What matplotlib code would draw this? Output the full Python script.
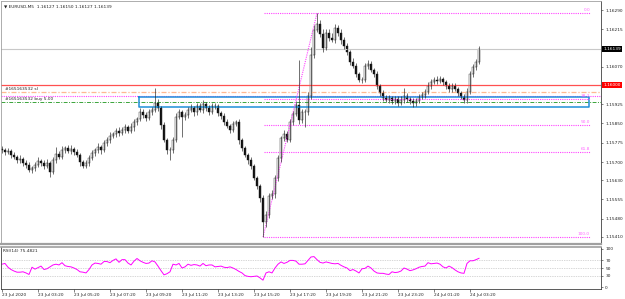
import numpy as np
import matplotlib
matplotlib.use('agg')
import matplotlib.pyplot as plt
from matplotlib.transforms import blended_transform_factory

# EURUSD close prices (one bar per 3 px of the chart)
closes = [
    1.15747, 1.15739, 1.15743, 1.15728, 1.15720, 1.15708, 1.15712, 1.15697, 1.15689, 1.15669,
    1.15677, 1.15689, 1.15704, 1.15697, 1.15685, 1.15697, 1.15662, 1.15708, 1.15731, 1.15720,
    1.15747, 1.15755, 1.15743, 1.15751, 1.15739, 1.15728, 1.15700, 1.15685, 1.15697, 1.15716,
    1.15735, 1.15747, 1.15759, 1.15747, 1.15774, 1.15786, 1.15801, 1.15809, 1.15821, 1.15813,
    1.15825, 1.15836, 1.15821, 1.15836, 1.15856, 1.15867, 1.15894, 1.15883, 1.15871, 1.15894,
    1.15902, 1.15929, 1.15910, 1.15844, 1.15786, 1.15747, 1.15747, 1.15786, 1.15875, 1.15894,
    1.15875, 1.15883, 1.15902, 1.15910, 1.15894, 1.15918, 1.15902, 1.15925, 1.15910, 1.15894,
    1.15918, 1.15918, 1.15891, 1.15879, 1.15856, 1.15840, 1.15825, 1.15848, 1.15856, 1.15786,
    1.15755, 1.15728, 1.15708, 1.15685, 1.15638, 1.15607, 1.15561, 1.15468, 1.15495, 1.15569,
    1.15576, 1.15638, 1.15716, 1.15794, 1.15809, 1.15786, 1.15856, 1.15887, 1.15922, 1.15863,
    1.15894, 1.15894, 1.15957, 1.16116, 1.16213, 1.16236, 1.16197, 1.16143, 1.16201, 1.16182,
    1.16174, 1.16220, 1.16201, 1.16174, 1.16151, 1.16127, 1.16089, 1.16073, 1.16042, 1.16019,
    1.16019, 1.16073, 1.16081, 1.16057, 1.16042, 1.15995, 1.15968, 1.15949, 1.15941, 1.15949,
    1.15937, 1.15945, 1.15929, 1.15941, 1.15957, 1.15945, 1.15937, 1.15929, 1.15937, 1.15953,
    1.15960, 1.15972, 1.15995, 1.16011, 1.16019, 1.16015, 1.16022, 1.16011, 1.15995, 1.15984,
    1.15995, 1.15984, 1.15968, 1.15953, 1.15941, 1.15972, 1.16042, 1.16069, 1.16089, 1.16139,
]
first_open = 1.15752
# wick sizes in points (0.00001)
upper_wick = [
    10, 8, 12, 6, 10, 9, 14, 7, 10, 12,
    8, 11, 15, 9, 10, 13, 7, 12, 28, 10,
    14, 9, 11, 16, 8, 10, 7, 9, 12, 10,
    13, 9, 15, 8, 12, 10, 14, 9, 11, 16,
    10, 12, 8, 14, 11, 9, 15, 10, 12, 13,
    10, 59, 14, 8, 10, 9, 12, 10, 15, 11,
    9, 13, 10, 16, 8, 12, 10, 14, 9, 11,
    12, 10, 8, 9, 11, 10, 8, 12, 9, 10,
    8, 9, 7, 10, 8, 9, 7, 10, 14, 12,
    15, 10, 12, 9, 14, 10, 13, 12, 15, 174,
    12, 10, 14, 30, 20, 42, 15, 18, 14, 16,
    18, 14, 12, 15, 10, 12, 9, 14, 10, 8,
    12, 10, 15, 12, 9, 10, 8, 11, 10, 12,
    9, 12, 10, 14, 31, 10, 9, 12, 10, 11,
    12, 10, 14, 12, 11, 15, 13, 10, 9, 12,
    10, 12, 9, 8, 10, 14, 12, 10, 11, 12,
]
lower_wick = [
    12, 10, 9, 14, 8, 12, 10, 11, 13, 9,
    12, 10, 8, 14, 11, 9, 20, 10, 12, 9,
    10, 13, 8, 11, 12, 9, 14, 10, 8, 12,
    9, 11, 10, 14, 8, 10, 12, 9, 11, 13,
    9, 12, 10, 8, 14, 11, 9, 12, 10, 8,
    11, 9, 12, 14, 10, 15, 39, 12, 10, 9,
    78, 10, 12, 9, 14, 10, 8, 12, 11, 10,
    9, 12, 14, 10, 11, 9, 12, 10, 8, 14,
    12, 10, 14, 11, 9, 12, 15, 59, 20, 14,
    12, 16, 10, 14, 12, 10, 9, 12, 10, 15,
    12, 58, 10, 12, 14, 10, 12, 15, 10, 12,
    9, 12, 10, 14, 11, 10, 13, 9, 12, 10,
    14, 10, 12, 9, 11, 13, 10, 12, 9, 11,
    12, 10, 13, 9, 10, 12, 11, 14, 10, 9,
    10, 12, 9, 11, 10, 12, 9, 11, 10, 12,
    11, 9, 12, 10, 12, 10, 9, 11, 10, 8,
]
rsi = [
    60, 62, 52, 46, 42, 39, 39, 40, 37, 33,
    52, 47, 51, 55, 46, 48, 53, 58, 60, 58,
    64, 56, 54, 53, 50, 46, 40, 39, 37, 46,
    58, 63, 62, 60, 67, 67, 64, 70, 74, 65,
    72, 72, 63, 58, 68, 75, 69, 65, 62, 63,
    69, 66, 55, 43, 32, 35, 40, 60, 58, 62,
    50, 53, 60, 57, 59, 58, 55, 62, 56, 58,
    58, 53, 54, 55, 52, 51, 53, 50, 46, 41,
    37, 30, 28, 27, 28, 29, 24, 18, 37, 40,
    37, 50, 60, 66, 62, 65, 70, 70, 68, 60,
    60, 61, 70, 79, 80, 72, 65, 63, 66, 64,
    62, 61, 62, 57, 53, 50, 43, 46, 42, 37,
    48, 49, 55, 50, 42, 37, 36, 36, 34, 33,
    40, 38, 39, 42, 50, 47, 43, 45, 48, 52,
    54, 55, 64, 61, 62, 63, 60, 53, 50, 55,
    51, 45, 40, 37, 36, 62, 69, 69, 72, 75.48,
]
date_labels = ['23 Jul 2020', '23 Jul 03:20', '23 Jul 05:20', '23 Jul 07:20', '23 Jul 09:20',
               '23 Jul 11:20', '23 Jul 13:20', '23 Jul 15:20', '23 Jul 17:20', '23 Jul 19:20',
               '23 Jul 21:20', '23 Jul 23:20', '24 Jul 01:20', '24 Jul 03:20']
price_ticks = [1.16290, 1.16215, 1.16070, 1.15925, 1.15850, 1.15775, 1.15700,
               1.15630, 1.15555, 1.15480, 1.15410]
bid = 1.16139
red_level = 1.16000
sl_level = 1.15970
hline_level = 1.15956
buy_level = 1.15933
box_top, box_bottom = 1.15951, 1.15914
fib_high, fib_low = 1.16278, 1.15409
fib_levels = [0.0, 38.2, 50.0, 61.8, 100.0]

closes = np.array(closes)
opens = np.r_[first_open, closes[:-1]]
highs = np.maximum(opens, closes) + np.array(upper_wick) * 1e-5
lows = np.minimum(opens, closes) - np.array(lower_wick) * 1e-5
idx = np.arange(len(closes))

W, H = 625, 299
fig = plt.figure(figsize=(W / 100, H / 100), dpi=100)
fs = 3.1
pink = '#ff44ff'
dots = (0, (1, 1))

def px_axes(x0, y0, x1, y1):
    return fig.add_axes([x0 / W, 1 - y1 / H, (x1 - x0) / W, (y1 - y0) / H])

ax = px_axes(1, 1, 601, 244)
ax.set_xlim(-1 / 3, 199 + 2 / 3)
ax.set_ylim(1.15382, 1.16325)

# price lines
ax.axhline(bid, color='#c8c8c8', lw=0.8)
ax.axhline(red_level, color='#ff5050', lw=0.9)
ax.axhline(sl_level, color='#ffb890', lw=0.9, ls=(0, (4, 1.5, 1, 1.5)))
ax.axhline(hline_level, color=pink, lw=0.8, ls=dots)
ax.axhline(buy_level, color='#3aa43a', lw=0.7, ls=(0, (4, 1.5, 1, 1.5)))

# rectangle
ax.plot([45.7, 195.7, 195.7, 45.7, 45.7], [box_top, box_top, box_bottom, box_bottom, box_top],
        color='#1e8fd8', lw=1.1)

# fibonacci
fib_x0, fib_x1 = 87.3, 196
ax.plot([87, 105], [fib_low, fib_high], color=pink, lw=0.8, ls=dots)
for lv in fib_levels:
    p = fib_high - (fib_high - fib_low) * lv / 100
    ax.plot([fib_x0, fib_x1], [p, p], color=pink, lw=0.8, ls=dots)
    ax.text(fib_x1, p + 0.00003, '%.1f' % lv, color='#ff66ff', fontsize=fs,
            ha='right', va='bottom')

# candles
ax.vlines(idx, lows, highs, color='#202020', lw=0.45)
bull = closes >= opens
ax.bar(idx[bull], (closes - opens)[bull], bottom=opens[bull], width=0.68,
       color='white', edgecolor='#202020', lw=0.3)
ax.bar(idx[~bull], (opens - closes)[~bull], bottom=closes[~bull], width=0.68,
       color='#101010', edgecolor='#101010', lw=0.3)

# order labels
ax.text(1, sl_level + 0.00004, '#165163532 sl', fontsize=fs, color='#202020', va='bottom')
ax.text(1, buy_level + 0.00004, '#165163532 buy 5.00', fontsize=fs, color='#202020', va='bottom')

ax.yaxis.tick_right()
ax.set_yticks(price_ticks)
ax.set_yticklabels(['%.5f' % t for t in price_ticks])
ax.tick_params(axis='y', labelsize=fs, length=1.5, width=0.4, pad=1.5, colors='#202020')
ax.set_xticks([])
tr = blended_transform_factory(ax.transAxes, ax.transData)
ax.text(1.004, bid, '%.5f' % bid, transform=tr, fontsize=fs, color='white', va='center',
        bbox=dict(boxstyle='square,pad=0.25', fc='black', ec='none'))
ax.text(1.004, red_level, '%.5f' % red_level, transform=tr, fontsize=fs, color='white', va='center',
        bbox=dict(boxstyle='square,pad=0.25', fc='#ff0000', ec='none'))
for s in ['top', 'left']:
    ax.spines[s].set_color('#a0a0a0')
    ax.spines[s].set_linewidth(0.6)
ax.spines['right'].set_color('#404040')
ax.spines['right'].set_linewidth(0.6)
ax.spines['bottom'].set_color('#a0a0a0')
ax.spines['bottom'].set_linewidth(1.6)

ax.text(0.005, 0.985, '\u25bc EURUSD,M5  1.16127 1.16150 1.16127 1.16139', transform=ax.transAxes,
        fontsize=fs, color='#202020', va='top')

# RSI pane
ax2 = px_axes(1, 247, 601, 289)
ax2.set_xlim(-1 / 3, 199 + 2 / 3)
ax2.set_ylim(-5.26, 105.26)
for lv in [70, 50, 30]:
    ax2.axhline(lv, color='#b0b0b0', lw=0.5, ls=(0, (1, 1.5)))
ax2.plot(idx, rsi, color='#ff00ff', lw=0.7)
ax2.text(0.004, 0.95, 'RSI(14) 75.4821', transform=ax2.transAxes, fontsize=fs,
         color='#202020', va='top')
ax2.yaxis.tick_right()
ax2.set_yticks([100, 70, 50, 30, 0])
ax2.set_yticklabels(['100', '70', '50', '30', '0'])
ax2.tick_params(axis='y', labelsize=fs, length=1.5, width=0.4, pad=1.5, colors='#202020')
ax2.set_xticks(np.arange(len(date_labels)) * 12)
ax2.set_xticklabels(date_labels, ha='left')
ax2.tick_params(axis='x', labelsize=fs, length=2, width=0.4, pad=1, colors='#202020')
for s in ['left', 'bottom', 'right']:
    ax2.spines[s].set_color('#404040')
    ax2.spines[s].set_linewidth(0.6)
ax2.spines['top'].set_color('#a0a0a0')
ax2.spines['top'].set_linewidth(1.2)

fig.savefig('out.png', dpi=100)
